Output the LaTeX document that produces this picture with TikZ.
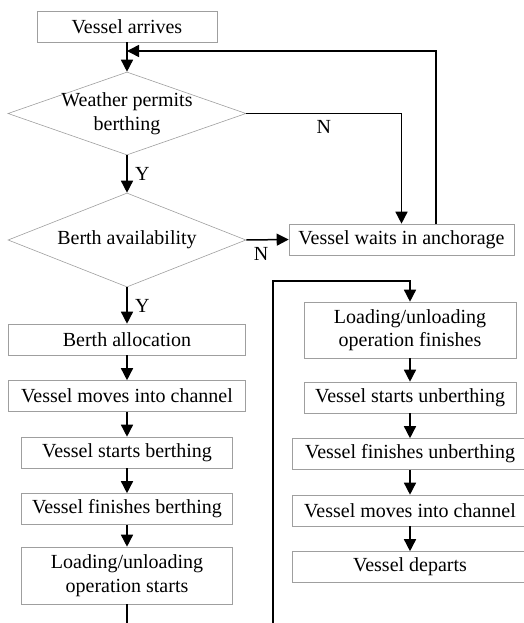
\documentclass[tikz,border=0pt]{standalone}
\usepackage{fontspec}
\setmainfont{Liberation Serif}
\usetikzlibrary{shapes.geometric,arrows.meta}

\begin{document}
\begin{tikzpicture}[x=1pt, y=-1pt, node distance=56.5pt,
        every node/.style={font=\fontsize{20}{23.5}\selectfont},
        box/.style={draw=gray!75, line width=0.6pt, rectangle, inner sep=0pt, minimum height=31pt, align=center},
        decision/.style={draw=gray!75, line width=0.6pt, diamond, inner sep=0pt, minimum width=238pt},
        flow/.style={line width=1.5pt, ->},
        >={Triangle[length=12pt,width=12pt]}]
        \useasboundingbox (0,0) rectangle (523,623);

        % main decision path
        \node[box, minimum width=180pt] (arrive) at (127,26.5) {Vessel arrives};
        \node[decision, minimum height=83pt, label={[align=center]center:Weather permits\\berthing}] (weather) at (127,113.5) {};
        \node[decision, minimum height=94pt, label={center:Berth availability}] (berth) at (127,240) {};
        \node[box, minimum width=225pt] (wait) at (401.5,239.5) {Vessel waits in anchorage};

        % left column
        \node[box, minimum width=237pt] (alloc) at (127,339.5) {Berth allocation};
        \node[box, minimum width=237pt, below of=alloc] (channelin) {Vessel moves into channel};
        \node[box, minimum width=211pt, below of=channelin] (startb) {Vessel starts berthing};
        \node[box, minimum width=211pt, below of=startb] (finishb) {Vessel finishes berthing};
        \node[box, minimum width=211pt, minimum height=57pt, below of=finishb, node distance=66.5pt] (opstart) {Loading/unloading\\operation starts};

        % right column
        \node[box, minimum width=212pt, minimum height=56pt] (opend) at (410,330) {Loading/unloading\\operation finishes};
        \node[box, minimum width=212pt, below of=opend, node distance=67.5pt] (startu) {Vessel starts unberthing};
        \node[box, minimum width=236pt, below of=startu] (finishu) {Vessel finishes unberthing};
        \node[box, minimum width=236pt, below of=finishu] (channelout) {Vessel moves into channel};
        \node[box, minimum width=236pt, below of=channelout] (depart) {Vessel departs};

        \coordinate (back) at (436,51);
        \coordinate (cutL) at (127,623);
        \coordinate (cutR) at (273,623);
        \coordinate (turn) at (273,281);

        \draw[flow] (arrive) -- (weather);
        \draw[flow] (weather.east) -| node[pos=0.25, below=3pt] {N} (wait.north);
        \draw[flow] (wait.north -| back) -- (back) -- (back -| arrive.south);
        \draw[flow] (weather.south) -- node[right=4pt] {Y} (berth.north);
        \draw[flow] (berth.east) -- node[pos=0.35, below=3pt] {N} (wait.west);
        \draw[flow] (berth.south) -- node[right=4pt] {Y} (alloc.north);
        \draw[flow] (alloc) -- (channelin);
        \draw[flow] (channelin) -- (startb);
        \draw[flow] (startb) -- (finishb);
        \draw[flow] (finishb) -- (opstart);
        \draw[line width=1.5pt] (opstart) -- (cutL);

        \draw[flow] (cutR) -- (turn) -| (opend.north);
        \draw[flow] (opend) -- (startu);
        \draw[flow] (startu) -- (finishu);
        \draw[flow] (finishu) -- (channelout);
        \draw[flow] (channelout) -- (depart);
    \end{tikzpicture}
\end{document}
